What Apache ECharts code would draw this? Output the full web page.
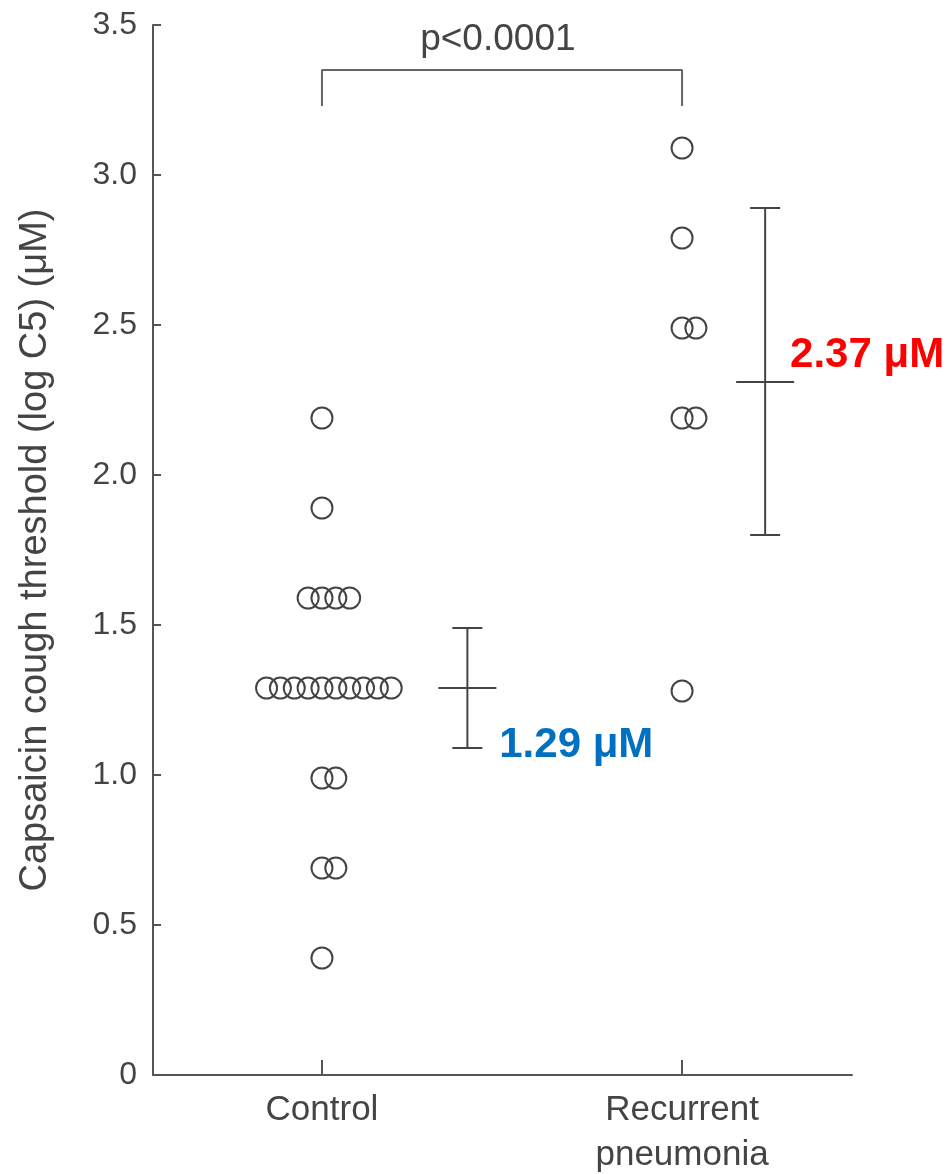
<!DOCTYPE html>
<html>
<head>
<meta charset="utf-8">
<script src="https://cdn.jsdelivr.net/npm/echarts@6/dist/echarts.min.js"></script>
<style>
html, body { margin: 0; padding: 0; background: #fff; }
#main { width: 947px; height: 1174px; }
</style>
</head>
<body>
<div id="main"></div>
<script>
// groups and where they sit on the x scale
var categories = ['Control', 'Recurrent\npneumonia'];
var groupX = [12.2, 38.2];

// log C5 values
var controlValues = [2.19, 1.89, 1.59, 1.59, 1.59, 1.59,
    1.29, 1.29, 1.29, 1.29, 1.29, 1.29, 1.29, 1.29, 1.29, 1.29,
    0.99, 0.99, 0.69, 0.69, 0.39];
var recurrentValues = [3.09, 2.79, 2.49, 2.49, 2.19, 2.19, 1.28];

// mean and spread bars
var barX = [22.7, 44.2];
var barMean = [1.29, 2.31];
var barLow = [1.09, 1.80];
var barHigh = [1.49, 2.89];

var meanLabels = ['1.29 μM', '2.37 μM'];
var meanLabelColors = ['#0070c0', '#ff0000'];
var meanLabelPos = [[25.0, 1.10], [46.0, 2.40]];

// dots with equal value are set side by side
function swarm(values, cx) {
    var counts = {};
    values.forEach(function(v) { counts[v] = (counts[v] || 0) + 1; });
    var used = {};
    return values.map(function(v) {
        var n = counts[v];
        var k = used[v] || 0;
        used[v] = k + 1;
        var off = -Math.floor((n - 1) / 2) + k;
        return [cx + off, v];
    });
}

var chart = echarts.init(document.getElementById('main'));
var font = 'Liberation Sans';
var axisColor = '#555';
var textColor = '#444';

var option = {
    animation: false,
    grid: { left: 153, right: 95, top: 25, bottom: 99, outerBoundsMode: 'none', containLabel: false },
    xAxis: {
        type: 'value',
        min: 0,
        max: 50.47,
        axisLine: { show: true, lineStyle: { color: axisColor, width: 2 } },
        splitLine: { show: false },
        axisTick: { show: true, inside: true, length: 15, customValues: groupX,
            lineStyle: { color: axisColor, width: 2 } },
        axisLabel: {
            customValues: groupX,
            margin: 13,
            color: textColor,
            fontFamily: font,
            fontSize: 35,
            lineHeight: 45,
            formatter: function(v) {
                var best = 0;
                groupX.forEach(function(g, i) {
                    if (Math.abs(g - v) < Math.abs(groupX[best] - v)) best = i;
                });
                return categories[best];
            }
        }
    },
    yAxis: {
        type: 'value',
        min: 0,
        max: 3.5,
        interval: 0.5,
        name: 'Capsaicin cough threshold (log C5) (μM)',
        nameLocation: 'middle',
        nameGap: 98,
        nameTextStyle: { color: textColor, fontFamily: font, fontSize: 38 },
        axisLine: { show: true, lineStyle: { color: axisColor, width: 2 } },
        splitLine: { show: false },
        axisTick: { show: true, inside: true, length: 8,
            lineStyle: { color: axisColor, width: 2 } },
        axisLabel: {
            margin: 16,
            color: textColor,
            fontFamily: font,
            fontSize: 32,
            formatter: function(v) { return v === 0 ? '0' : v.toFixed(1); }
        }
    },
    series: [
        {
            type: 'scatter',
            symbol: 'circle',
            symbolSize: 21,
            itemStyle: { color: 'rgba(0,0,0,0)', borderColor: '#444', borderWidth: 2, opacity: 1 },
            data: swarm(controlValues, groupX[0])
        },
        {
            type: 'scatter',
            symbol: 'circle',
            symbolSize: 21,
            itemStyle: { color: 'rgba(0,0,0,0)', borderColor: '#444', borderWidth: 2, opacity: 1 },
            data: swarm(recurrentValues, groupX[1])
        },
        {
            type: 'custom',
            renderItem: function(params, api) {
                var x = api.value(0);
                var pm = api.coord([x, api.value(1)]);
                var pl = api.coord([x, api.value(2)]);
                var ph = api.coord([x, api.value(3)]);
                var st = { stroke: '#444', lineWidth: 2 };
                var cap = 15, half = 29;
                return {
                    type: 'group',
                    children: [
                        { type: 'line', shape: { x1: pl[0], y1: pl[1], x2: ph[0], y2: ph[1] }, style: st },
                        { type: 'line', shape: { x1: ph[0] - cap, y1: ph[1], x2: ph[0] + cap, y2: ph[1] }, style: st },
                        { type: 'line', shape: { x1: pl[0] - cap, y1: pl[1], x2: pl[0] + cap, y2: pl[1] }, style: st },
                        { type: 'line', shape: { x1: pm[0] - half, y1: pm[1], x2: pm[0] + half, y2: pm[1] }, style: st }
                    ]
                };
            },
            data: barX.map(function(x, i) { return [x, barMean[i], barLow[i], barHigh[i]]; })
        },
        {
            type: 'line',
            symbol: 'none',
            lineStyle: { color: '#666', width: 2 },
            data: [[groupX[0], 3.23], [groupX[0], 3.35], [groupX[1], 3.35], [groupX[1], 3.23]]
        },
        {
            type: 'scatter',
            symbolSize: 0,
            itemStyle: { opacity: 1 },
            label: {
                show: true,
                position: 'inside',
                formatter: '{b}',
                color: textColor,
                fontFamily: font,
                fontSize: 37
            },
            data: [{ name: 'p<0.0001', value: [24.9, 3.45] }]
        },
        {
            type: 'scatter',
            symbolSize: 0,
            itemStyle: { opacity: 1 },
            label: {
                show: true,
                position: 'right',
                distance: 0,
                formatter: '{b}',
                fontFamily: font,
                fontWeight: 'bold',
                fontSize: 42
            },
            data: meanLabels.map(function(t, i) {
                return { name: t, value: meanLabelPos[i], label: { color: meanLabelColors[i] } };
            })
        }
    ]
};

option && chart.setOption(option);
</script>
</body>
</html>
